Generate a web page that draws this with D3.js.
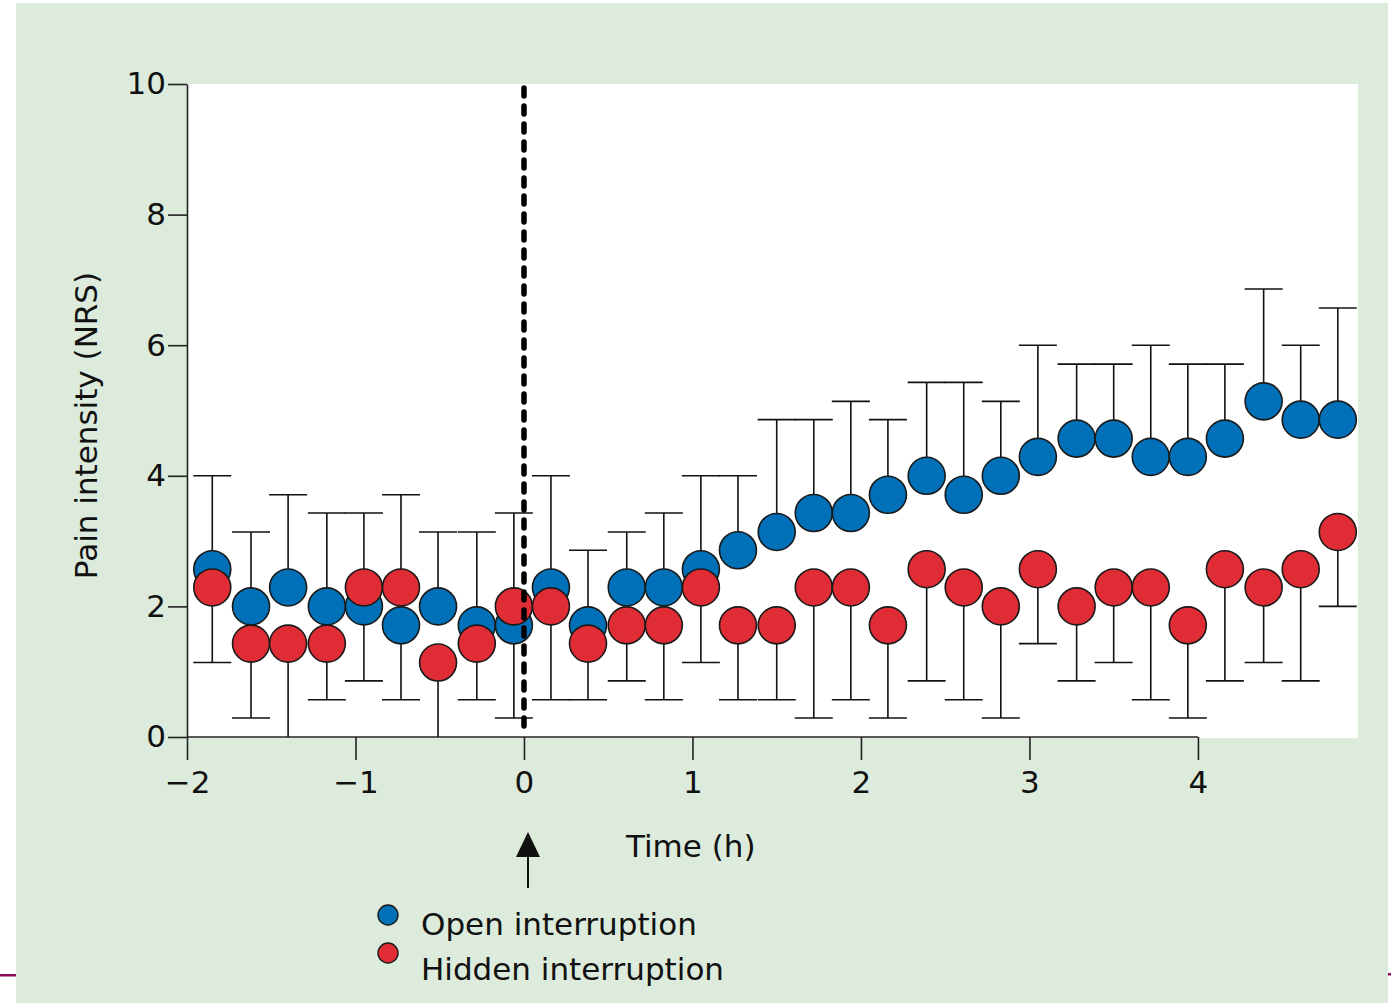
<!DOCTYPE html>
<html>
<head>
<meta charset="utf-8">
<script src="https://cdn.jsdelivr.net/npm/d3@7"></script>
<style>
  html, body { margin: 0; padding: 0; background: #ffffff; }
  svg { display: block; }
  text { font-family: "DejaVu Sans", Verdana, sans-serif; fill: #111; }
</style>
</head>
<body>
<svg id="chart" width="1391" height="1003"></svg>
<script>
// Sampling times (h) relative to the interruption at t = 0
const times = [-1.85, -1.62, -1.40, -1.17, -0.95, -0.73, -0.51, -0.28, -0.06, 0.16,
               0.38, 0.61, 0.83, 1.05, 1.27, 1.50, 1.72, 1.94, 2.16, 2.39,
               2.61, 2.83, 3.05, 3.28, 3.50, 3.72, 3.94, 4.16, 4.39, 4.61, 4.83];

// Open interruption: mean NRS and upper whisker
const openMean  = [2.57, 2.00, 2.29, 2.00, 2.00, 1.71, 2.00, 1.71, 1.71, 2.29,
                   1.71, 2.29, 2.29, 2.57, 2.86, 3.14, 3.43, 3.43, 3.71, 4.00,
                   3.71, 4.00, 4.29, 4.57, 4.57, 4.29, 4.29, 4.57, 5.14, 4.86, 4.86];
const openUpper = [4.00, 3.14, 3.71, 3.43, 3.43, 3.71, 3.14, 3.14, 3.43, 4.00,
                   2.86, 3.14, 3.43, 4.00, 4.00, 4.86, 4.86, 5.14, 4.86, 5.43,
                   5.43, 5.14, 6.00, 5.71, 5.71, 6.00, 5.71, 5.71, 6.86, 6.00, 6.57];

// Hidden interruption: mean NRS and lower whisker
const hiddenMean  = [2.29, 1.43, 1.43, 1.43, 2.29, 2.29, 1.14, 1.43, 2.00, 2.00,
                     1.43, 1.71, 1.71, 2.29, 1.71, 1.71, 2.29, 2.29, 1.71, 2.57,
                     2.29, 2.00, 2.57, 2.00, 2.29, 2.29, 1.71, 2.57, 2.29, 2.57, 3.14];
const hiddenLower = [1.14, 0.29, 0.00, 0.57, 0.86, 0.57, 0.00, 0.57, 0.29, 0.57,
                     0.57, 0.86, 0.57, 1.14, 0.57, 0.57, 0.29, 0.57, 0.29, 0.86,
                     0.57, 0.29, 1.43, 0.86, 1.14, 0.57, 0.29, 0.86, 1.14, 0.86, 2.00];

const xTicks = [-2, -1, 0, 1, 2, 3, 4];
const yTicks = [0, 2, 4, 6, 8, 10];
const seriesNames = ["Open interruption", "Hidden interruption"];

const BLUE = "#0070b8";
const RED = "#df2c35";
const BG = "#dcebdc";

const svg = d3.select("#chart");

// panel background and page rules
svg.append("rect").attr("x", 16).attr("y", 3).attr("width", 1372).attr("height", 1000).attr("fill", BG);
svg.append("rect").attr("x", 0).attr("y", 974).attr("width", 16).attr("height", 2.5).attr("fill", "#860a55");
svg.append("rect").attr("x", 1388).attr("y", 973).attr("width", 3).attr("height", 2.5).attr("fill", "#860a55");

const x = d3.scaleLinear().domain([-2, 4.95]).range([187, 1358]);
const y = d3.scaleLinear().domain([0, 10]).range([737, 84]);

// white plotting area
svg.append("rect")
  .attr("x", x(-2)).attr("y", y(10))
  .attr("width", x(4.95) - x(-2)).attr("height", y(0) - y(10) + 1)
  .attr("fill", "#ffffff");

const intFmt = d3.format("d");

// axes
const yAxis = svg.append("g")
  .attr("transform", `translate(${x(-2)},0)`)
  .call(d3.axisLeft(y).tickValues(yTicks).tickFormat(intFmt)
    .tickSize(19).tickPadding(2).tickSizeOuter(0));
yAxis.select(".domain").attr("stroke", "#222").attr("stroke-width", 1.6);
yAxis.selectAll(".tick line").attr("stroke", "#222").attr("stroke-width", 1.6);
yAxis.selectAll(".tick text").attr("font-size", 31).attr("fill", "#111")
  .attr("font-family", "DejaVu Sans, sans-serif");

const xAxis = svg.append("g")
  .attr("transform", `translate(0,${y(0)})`)
  .call(d3.axisBottom(x).tickValues(xTicks).tickFormat(intFmt)
    .tickSize(23).tickPadding(11).tickSizeOuter(0));
xAxis.select(".domain").remove();
xAxis.selectAll(".tick line").attr("stroke", "#222").attr("stroke-width", 1.6);
xAxis.selectAll(".tick text").attr("font-size", 31).attr("fill", "#111")
  .attr("font-family", "DejaVu Sans, sans-serif");
xAxis.append("line")
  .attr("x1", x(-2)).attr("x2", x(4)).attr("y1", 0).attr("y2", 0)
  .attr("stroke", "#222").attr("stroke-width", 1.6);

// axis titles
svg.append("text")
  .attr("transform", `translate(97,${(y(0) + y(10)) / 2 + 15}) rotate(-90)`)
  .attr("text-anchor", "middle").attr("font-size", 31)
  .text("Pain intensity (NRS)");
svg.append("text")
  .attr("x", 626).attr("y", 857).attr("font-size", 31)
  .text("Time (h)");

// error bars (drawn beneath the markers)
const CAP = 19;
const bars = svg.append("g").attr("stroke", "#111").attr("stroke-width", 1.6).attr("fill", "none");
times.forEach((t, i) => {
  const cx = x(t);
  bars.append("line").attr("x1", cx).attr("x2", cx).attr("y1", y(openMean[i])).attr("y2", y(openUpper[i]));
  bars.append("line").attr("x1", cx - CAP).attr("x2", cx + CAP).attr("y1", y(openUpper[i])).attr("y2", y(openUpper[i]));
  bars.append("line").attr("x1", cx).attr("x2", cx).attr("y1", y(hiddenMean[i])).attr("y2", y(hiddenLower[i]));
  if (hiddenLower[i] > 0) {
    bars.append("line").attr("x1", cx - CAP).attr("x2", cx + CAP).attr("y1", y(hiddenLower[i])).attr("y2", y(hiddenLower[i]));
  }
});

// markers
const R = 18.5;
svg.append("g").selectAll("circle.open")
  .data(times).join("circle")
  .attr("class", "open")
  .attr("cx", d => x(d)).attr("cy", (d, i) => y(openMean[i])).attr("r", R)
  .attr("fill", BLUE).attr("stroke", "#1a1a1a").attr("stroke-width", 1.6);
svg.append("g").selectAll("circle.hidden")
  .data(times).join("circle")
  .attr("class", "hidden")
  .attr("cx", d => x(d)).attr("cy", (d, i) => y(hiddenMean[i])).attr("r", R)
  .attr("fill", RED).attr("stroke", "#1a1a1a").attr("stroke-width", 1.6);

// interruption marker at t = 0
svg.append("line")
  .attr("x1", x(0)).attr("x2", x(0)).attr("y1", 88).attr("y2", y(0) - 4)
  .attr("stroke", "#000").attr("stroke-width", 5.5)
  .attr("stroke-dasharray", "8 10").attr("stroke-linecap", "round");

// arrow beneath the axis
const ax = x(0) + 4;
svg.append("line").attr("x1", ax).attr("x2", ax).attr("y1", 888).attr("y2", 852)
  .attr("stroke", "#111").attr("stroke-width", 2);
svg.append("path")
  .attr("d", `M${ax},832 L${ax - 12},857 L${ax + 12},857 Z`)
  .attr("fill", "#111");

// legend
const legend = svg.append("g");
[BLUE, RED].forEach((c, i) => {
  legend.append("circle").attr("cx", 388).attr("cy", 915 + i * 38).attr("r", 10)
    .attr("fill", c).attr("stroke", "#1a1a1a").attr("stroke-width", 1.4);
  legend.append("text").attr("x", 421).attr("y", 935 + i * 45).attr("font-size", 31)
    .text(seriesNames[i]);
});
</script>
</body>
</html>
